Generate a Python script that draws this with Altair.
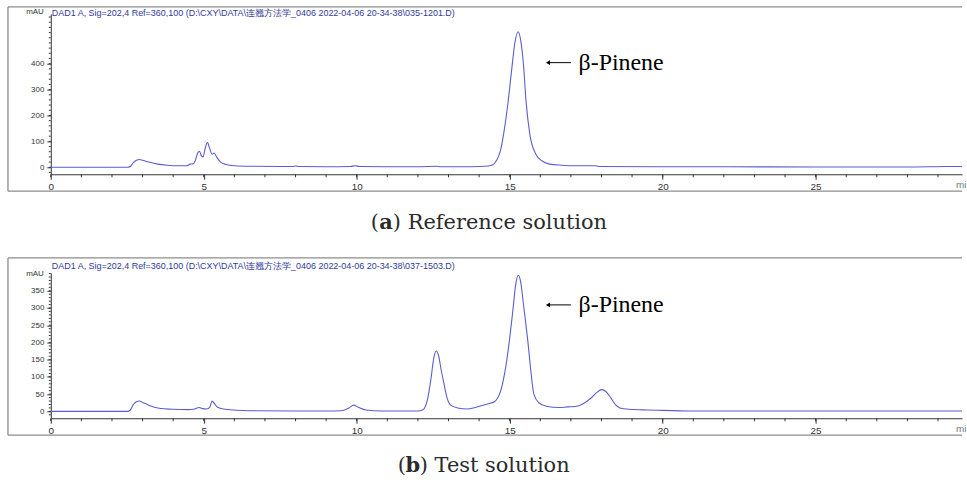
import altair as alt
import pandas as pd

# ---------------- data ----------------
# (a) Reference solution: retention time (min) and absorbance (mAU)
time_a = [0, 1.0, 2.0, 2.5, 2.6, 2.7, 2.8, 2.9, 3.0, 3.2, 3.5, 3.8, 4.2, 4.45, 4.55,
          4.65, 4.72, 4.8, 4.86, 4.92, 4.98, 5.05, 5.12, 5.2, 5.27, 5.34, 5.42, 5.55,
          5.7, 6.0, 6.5, 7.5, 7.9, 8.0, 8.1, 9.0, 9.8, 9.95, 10.1, 11.0, 12.0, 12.6,
          12.75, 13.5, 14.0, 14.3, 14.45, 14.58, 14.7, 14.83, 14.95, 15.07, 15.17, 15.27,
          15.36, 15.46, 15.53, 15.66, 15.86, 16.05, 16.3, 16.7, 17.2, 17.8, 17.9, 20.0,
          22.0, 25.0, 28.0, 29.3, 29.8]
mau_a = [0, 0, 0, 0, 3, 18, 27, 30, 27, 20, 12, 8, 6, 6, 12,
         13, 25, 55, 62, 45, 40, 75, 95, 70, 50, 55, 40, 20,
         12, 6, 4, 3, 3, 5, 3, 2, 3, 6, 3, 2, 2, 4,
         2, 2, 3, 5, 10, 28, 65, 150, 255, 382, 480, 523,
         490, 382, 261, 126, 49, 25, 12, 8, 6, 6, 3, 2,
         2, 1, 1, 3, 3]

# (b) Test solution
time_b = [0, 1.0, 2.0, 2.5, 2.6, 2.7, 2.8, 2.9, 3.0, 3.2, 3.5, 4.0, 4.5, 4.7, 4.85,
          4.95, 5.1, 5.2, 5.27, 5.33, 5.45, 5.7, 6.5, 8.0, 9.0, 9.5, 9.75, 9.9, 10.05,
          10.3, 10.8, 12.0, 12.15, 12.3, 12.42, 12.52, 12.6, 12.68, 12.76, 12.83, 12.95,
          13.07, 13.3, 13.6, 13.9, 14.1, 14.3, 14.5, 14.6, 14.7, 14.85, 14.98, 15.1,
          15.2, 15.28, 15.36, 15.45, 15.6, 15.69, 15.79, 15.95, 16.2, 16.6, 16.9, 17.15,
          17.4, 17.65, 17.85, 18.0, 18.15, 18.3, 18.45, 18.6, 18.9, 19.5, 20.0, 21.0,
          25.0, 29.8]
mau_b = [0, 0, 0, 0, 4, 20, 28, 30, 26, 18, 10, 6, 5, 7, 11,
         8, 7, 12, 30, 25, 12, 6, 2, 1, 1, 2, 10, 18, 12,
         4, 1, 1, 4, 30, 90, 155, 175, 160, 120, 90, 40,
         18, 10, 7, 12, 17, 22, 28, 38, 58, 118, 198, 290,
         370, 395, 375, 310, 198, 118, 50, 25, 15, 11, 13, 14,
         22, 38, 55, 63, 57, 40, 20, 10, 6, 4, 3, 1,
         1, 1]

x_major = [0, 5, 10, 15, 20, 25]
x_minor = list(range(0, 30))
ya_major = [0, 100, 200, 300, 400]
ya_minor = list(range(-20, 581, 20))
yb_major = [0, 50, 100, 150, 200, 250, 300, 350]
yb_minor = list(range(-10, 401, 10))

title_a = "DAD1 A, Sig=202,4 Ref=360,100 (D:\\CXY\\DATA\\连翘方法学_0406 2022-04-06 20-34-38\\035-1201.D)"
title_b = "DAD1 A, Sig=202,4 Ref=360,100 (D:\\CXY\\DATA\\连翘方法学_0406 2022-04-06 20-34-38\\037-1503.D)"
peak_label = "β-Pinene"
caption_a = ("(", "a", ") Reference solution")
caption_b = ("(", "b", ") Test solution")

# ---------------- style ----------------
W = 915
XMAX = 29.785
LINE = "#5c5cd0"
AX = "#333333"
FRAME = "#8c8c8c"
TITLE_C = "#2f3a9c"
SANS = "Liberation Sans Narrow, Arial Narrow, Liberation Sans, sans-serif"
SERIF_CAP = "DejaVu Serif"
SERIF_LBL = "Liberation Serif"

one = pd.DataFrame({"k": [0]})


def panel(times, vals, ydom, height, ymajor, yminor, title, cap, ann_v,
          frame_top, frame_bottom, title_y, cap_y, mau_y, cap_x):
    xs = alt.Scale(domain=[0, XMAX], nice=False, zero=False)
    ys = alt.Scale(domain=ydom, nice=False, zero=False)
    xax = alt.Axis(values=x_major, format="d", title=None, grid=False, domainColor=AX,
                   tickColor=AX, tickSize=5, labelFontSize=10, labelFont=SANS,
                   labelColor=AX, labelPadding=2, labelFlush=False, domainWidth=1,
                   tickWidth=1)
    yax = alt.Axis(values=ymajor, format="d", title=None, grid=False, domainColor=AX,
                   tickColor=AX, tickSize=4, labelFontSize=8, labelFont=SANS,
                   labelColor=AX, labelPadding=3, labelFlush=False, domainWidth=1,
                   tickWidth=1)

    def X(f):
        return alt.X(f, scale=xs, axis=xax)

    def Y(f):
        return alt.Y(f, scale=ys, axis=yax)

    df = pd.DataFrame({"t": times, "v": vals})

    line = alt.Chart(df).mark_line(color=LINE, strokeWidth=1.1, interpolate="monotone",
                                   clip=True).encode(x=X("t:Q"), y=Y("v:Q"))

    xmin = alt.Chart(pd.DataFrame({"t": x_minor})).mark_rule(color=AX, strokeWidth=1).encode(
        x=X("t:Q"), y=alt.value(height), y2=alt.value(height + 3))
    ymin = alt.Chart(pd.DataFrame({"v": yminor})).mark_rule(color=AX, strokeWidth=1).encode(
        y=Y("v:Q"), x=alt.value(-2), x2=alt.value(0))

    ftop = alt.Chart(one).mark_rule(color=FRAME, strokeWidth=1.3).encode(
        x=alt.value(-43), x2=alt.value(W), y=alt.value(frame_top))
    fbot = alt.Chart(one).mark_rule(color=FRAME, strokeWidth=1.3).encode(
        x=alt.value(-43), x2=alt.value(W), y=alt.value(frame_bottom))
    fleft = alt.Chart(one).mark_rule(color=FRAME, strokeWidth=1.3).encode(
        x=alt.value(-43), y=alt.value(frame_top), y2=alt.value(frame_bottom))

    ttl = alt.Chart(pd.DataFrame({"s": [title]})).mark_text(
        align="left", baseline="middle", font=SANS, fontSize=9, color=TITLE_C).encode(
        x=alt.value(1), y=alt.value(title_y), text="s:N")
    mau = alt.Chart(pd.DataFrame({"s": ["mAU"]})).mark_text(
        align="right", baseline="middle", font=SANS, fontSize=8, color=AX).encode(
        x=alt.value(-7), y=alt.value(mau_y), text="s:N")
    mi = alt.Chart(pd.DataFrame({"s": ["mi"]})).mark_text(
        align="left", baseline="middle", font=SANS, fontSize=10, color="#777777").encode(
        x=alt.value(W - 6), y=alt.value(height + 11), text="s:N")

    # annotation: arrow + label
    arr = alt.Chart(pd.DataFrame({"t0": [16.27], "t1": [17.0], "v": [ann_v]})).mark_rule(
        color="black", strokeWidth=1).encode(x=X("t0:Q"), x2="t1:Q", y=Y("v:Q"))
    head = alt.Chart(pd.DataFrame({"t": [16.25], "v": [ann_v]})).mark_point(
        shape="triangle-left", filled=True, color="black", size=22, opacity=1).encode(
        x=X("t:Q"), y=Y("v:Q"))
    lbl = alt.Chart(pd.DataFrame({"t": [17.25], "v": [ann_v], "s": [peak_label]})).mark_text(
        align="left", baseline="middle", font=SERIF_LBL, fontSize=24, color="black").encode(
        x=X("t:Q"), y=Y("v:Q"), text="s:N")

    # caption with bold letter
    c1 = alt.Chart(pd.DataFrame({"s": [cap[0]]})).mark_text(
        align="right", baseline="middle", font=SERIF_CAP, fontSize=21, color="#2a2a2a").encode(
        x=alt.value(cap_x - 7), y=alt.value(cap_y), text="s:N")
    c2 = alt.Chart(pd.DataFrame({"s": [cap[1]]})).mark_text(
        align="center", baseline="middle", font=SERIF_CAP, fontSize=21, fontWeight="bold",
        color="#2a2a2a").encode(x=alt.value(cap_x), y=alt.value(cap_y), text="s:N")
    c3 = alt.Chart(pd.DataFrame({"s": [cap[2]]})).mark_text(
        align="left", baseline="middle", font=SERIF_CAP, fontSize=21, color="#2a2a2a").encode(
        x=alt.value(cap_x + 7), y=alt.value(cap_y), text="s:N")

    return alt.layer(line, xmin, ymin, ftop, fbot, fleft, ttl, mau, mi, arr, head, lbl,
                     c1, c2, c3).properties(width=W, height=height)


pa = panel(time_a, mau_a, [-27, 592], 161, ya_major, ya_minor, title_a, caption_a, 404,
           -7, 178, -1, 210, -2, 336.5)
pb = panel(time_b, mau_b, [-20, 402], 146, yb_major, yb_minor, title_b, caption_b, 309,
           -15, 163, -7, 194, 1, 363.5)

chart = alt.vconcat(pa, pb, spacing=99, bounds="flush").properties(
    padding={"left": 7, "top": 5, "right": 0, "bottom": 0},
    background="white",
).configure_view(stroke=None)

chart.save("out.html", embed_options={"renderer": "svg", "actions": False})
